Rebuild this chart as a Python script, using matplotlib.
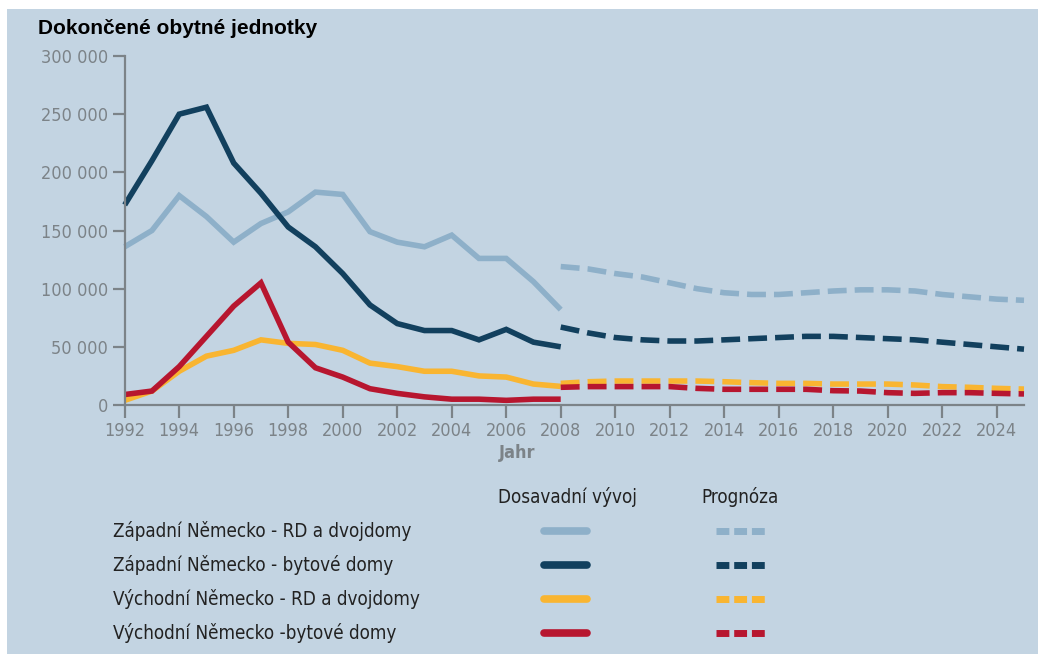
import matplotlib
matplotlib.use("Agg")
import matplotlib.pyplot as plt
from matplotlib.lines import Line2D
from matplotlib.patches import Rectangle

# data
hist_years = list(range(1992, 2009))
fc_years = list(range(2008, 2026))

west_rd_hist = [136000, 150000, 180000, 162000, 140000, 156000, 166000, 183000, 181000,
                149000, 140000, 136000, 146000, 126000, 126000, 106000, 82000]
west_byt_hist = [172000, 210000, 250000, 256000, 208000, 182000, 153000, 136000, 113000,
                 86000, 70000, 64000, 64000, 56000, 65000, 54000, 50000]
east_rd_hist = [4000, 12000, 29000, 42000, 47000, 56000, 53000, 52000, 47000,
                36000, 33000, 29000, 29000, 25000, 24000, 18000, 16000]
east_byt_hist = [9000, 12000, 33000, 59000, 85000, 105000, 54000, 32000, 24000,
                 14000, 10000, 7000, 5000, 5000, 4000, 5000, 5000]

west_rd_fc = [119000, 117000, 113000, 110000, 105000, 100000, 96500, 95000, 95000,
              96500, 98000, 99000, 99000, 98000, 95000, 93000, 91000, 90000]
west_byt_fc = [67000, 62000, 58000, 56000, 55000, 55000, 56000, 57000, 58000,
               59000, 59000, 58000, 57000, 56000, 54000, 52000, 50000, 48000]
east_rd_fc = [18600, 20000, 20600, 20600, 20600, 20600, 20000, 19200, 18600,
              18600, 18000, 18000, 18000, 17200, 15800, 15200, 14300, 13700]
east_byt_fc = [15200, 15800, 15800, 15800, 15800, 14300, 13500, 13500, 13500,
               13500, 12300, 12000, 10600, 10000, 10600, 10600, 10000, 9500]

series_names = ["Západní Německo - RD a dvojdomy", "Západní Německo - bytové domy",
                "Východní Německo - RD a dvojdomy", "Východní Německo -bytové domy"]
series_colors = ["#8eb0c9", "#12405e", "#f9b531", "#b7162f"]

yticks = [0, 50000, 100000, 150000, 200000, 250000, 300000]
xticks = list(range(1992, 2025, 2))

title = "Dokončené obytné jednotky"
xlabel = "Jahr"
head_hist = "Dosavadní vývoj"
head_fc = "Prognóza"

bg = "#c3d4e2"
grey = "#7c8388"
narrow = dict(family="DejaVu Sans", stretch="condensed")

W, H = 1038, 654
fig = plt.figure(figsize=(W / 100, H / 100), dpi=100, facecolor="white")
fig.add_artist(Rectangle((7 / W, 0), 1, (H - 9) / H, transform=fig.transFigure,
                         facecolor=bg, edgecolor="none", zorder=-10))

ax = fig.add_axes([124.7 / W, (H - 405) / H, (1024 - 124.7) / W, (405 - 56) / H])
ax.set_facecolor("none")
ax.set_xlim(1992, 2025)
ax.set_ylim(0, 300000)

hist = [west_rd_hist, west_byt_hist, east_rd_hist, east_byt_hist]
fc = [west_rd_fc, west_byt_fc, east_rd_fc, east_byt_fc]
for vals, col in zip(hist, series_colors):
    ax.plot(hist_years, vals, color=col, lw=4.0, solid_joinstyle="miter",
            solid_capstyle="butt", clip_on=False)
for vals, col in zip(fc, series_colors):
    ax.plot(fc_years, vals, color=col, lw=4.0, dashes=(3.4, 1.45),
            dash_capstyle="butt", clip_on=False)

for s in ["top", "right"]:
    ax.spines[s].set_visible(False)
for s in ["left", "bottom"]:
    ax.spines[s].set_color(grey)
    ax.spines[s].set_linewidth(1.6)

ax.set_yticks(yticks)
ax.set_yticklabels([f"{v:,}".replace(",", " ") for v in yticks])
ax.set_xticks(xticks)
ax.set_xticklabels([str(v) for v in xticks])
ax.tick_params(axis="both", colors=grey, width=1.6, length=9, labelsize=13, pad=3)
for lab in ax.get_xticklabels() + ax.get_yticklabels():
    lab.set_family("DejaVu Sans")
    lab.set_stretch("condensed")
    lab.set_color(grey)

fig.text(517 / W, 1 - 453 / H, xlabel, ha="center", va="center", fontsize=13,
         fontweight="bold", color=grey, **narrow)
fig.text(38 / W, 1 - 28 / H, title, ha="left", va="center", fontsize=15,
         family=["Liberation Sans", "DejaVu Sans"], fontweight="bold", color="black")

# legend drawn by hand
fig.text(567 / W, 1 - 497 / H, head_hist, ha="center", va="center", fontsize=13.5,
         color="#222222", **narrow)
fig.text(740 / W, 1 - 497 / H, head_fc, ha="center", va="center", fontsize=13.5,
         color="#222222", **narrow)
rows = [531, 565, 599, 633]
for name, col, ry in zip(series_names, series_colors, rows):
    yy = 1 - ry / H
    fig.text(113 / W, yy, name, ha="left", va="center", fontsize=13.5,
             color="#222222", **narrow)
    fig.add_artist(Line2D([544 / W, 587 / W], [yy, yy], transform=fig.transFigure,
                          color=col, lw=5.5, solid_capstyle="round"))
    fig.add_artist(Line2D([716 / W, 766 / W], [yy, yy], transform=fig.transFigure,
                          color=col, lw=5.0, dashes=(1.85, 0.7), dash_capstyle="butt"))

fig.savefig("out.png", dpi=100, facecolor="white")
